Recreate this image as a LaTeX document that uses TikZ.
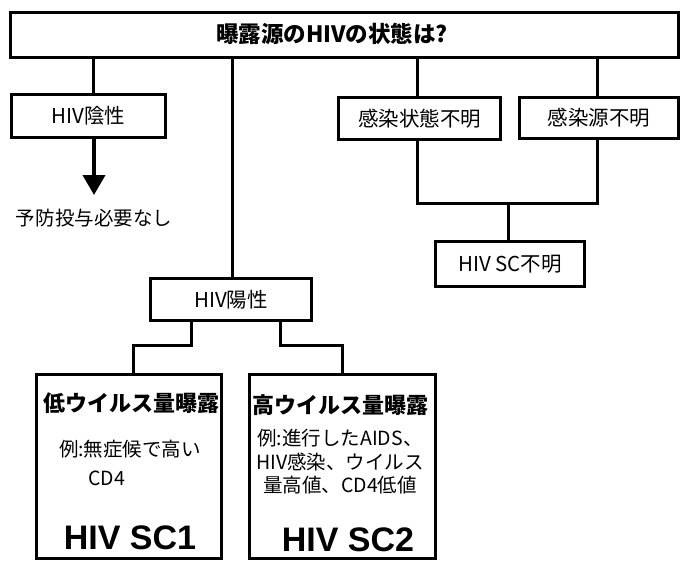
\documentclass[tikz,border=0pt]{standalone}
\usepackage{fontspec}
\setmainfont{Noto Sans CJK JP}
\newfontfamily\latinbold{Liberation Sans}
\usetikzlibrary{arrows.meta}
\begin{document}
\begin{tikzpicture}[x=1pt,y=-1pt,
  box/.style={draw, line width=2.8pt, fill=white, inner sep=0pt},
  conn/.style={line width=3pt},
  lab/.style={font=\fontsize{20.5}{22}\selectfont},
  body/.style={font=\fontsize{19.5}{23.5}\selectfont, inner sep=0pt},
  head/.style={font=\bfseries\fontsize{22}{24}\selectfont, inner sep=0pt},
  big/.style={font=\latinbold\bfseries\fontsize{34}{36}\selectfont, inner sep=0pt}]
\useasboundingbox (0,0) rectangle (684,575);

% boxes
\node[box, minimum width=668pt, minimum height=45pt] (top) at (344.5,35) {};
\node[font=\bfseries\fontsize{22.5}{24}\selectfont, inner sep=0pt] (title) at (332,34) {曝露源のHIVの状態は?};
\node[box, lab, minimum width=154pt, minimum height=43pt] (neg) at (88.5,116) {HIV陰性};
\node[box, lab, minimum width=162pt, minimum height=42pt] (st) at (419.5,118.5) {感染状態不明};
\node[box, lab, minimum width=159pt, minimum height=41pt] (src) at (599,118) {感染源不明};
\node[box, lab, minimum width=149pt, minimum height=45pt] (unk) at (510,264) {HIV SC不明};
\node[box, lab, minimum width=161pt, minimum height=42pt] (pos) at (231,299.5) {HIV陽性};
\node[box, minimum width=185pt, minimum height=184pt] (low) at (129,466.5) {};
\node[box, minimum width=186pt, minimum height=184pt] (high) at (342.5,466.5) {};

% texts in the lower boxes
\node[head] (lowt) at (131,403) {低ウイルス量曝露};
\node[body] (lowb) at (130,449) {例:無症候で高い};
\node[body, anchor=west] (cd4) at (88,478) {CD4};
\node[big] (sc1) at (130,538) {HIV SC1};
\node[head] (hight) at (340,405) {高ウイルス量曝露};
\node[body, align=center] (highb) at (340,462) {例:進行したAIDS、\\HIV感染、ウイルス\\量高値、CD4低値};
\node[big] (sc2) at (348,540) {HIV SC2};

% note under negative
\node[font=\fontsize{19.5}{22}\selectfont, inner sep=0pt] (note) at (94,218) {予防投与必要なし};
\coordinate (tip) at (94,195);
\coordinate (mid) at (508,203);

% connectors
\draw[conn] ([xshift=4.5pt]neg.north) -- ([xshift=4.5pt]neg.north |- top.south);
\draw[conn] ([xshift=1pt]pos.north) -- ([xshift=1pt]pos.north |- top.south);
\draw[conn] ([xshift=-2.5pt]st.north) -- ([xshift=-2.5pt]st.north |- top.south);
\draw[conn] ([xshift=-2pt]src.north) -- ([xshift=-2pt]src.north |- top.south);
\draw[conn] ([xshift=-2.5pt]st.south) |- (mid) -| ([xshift=-2pt]src.south);
\draw[conn] (mid) -- (mid |- unk.north);
\draw[conn] ([xshift=-40pt]pos.south) -- ++(0,24) -| ([xshift=4pt]low.north);
\draw[conn] ([xshift=49pt]pos.south) -- ++(0,24) -| ([xshift=-0.5pt]high.north);
\draw[line width=4pt, -{Triangle[width=22pt,length=20pt]}] ([xshift=5.5pt]neg.south) -- (tip);
\end{tikzpicture}
\end{document}
